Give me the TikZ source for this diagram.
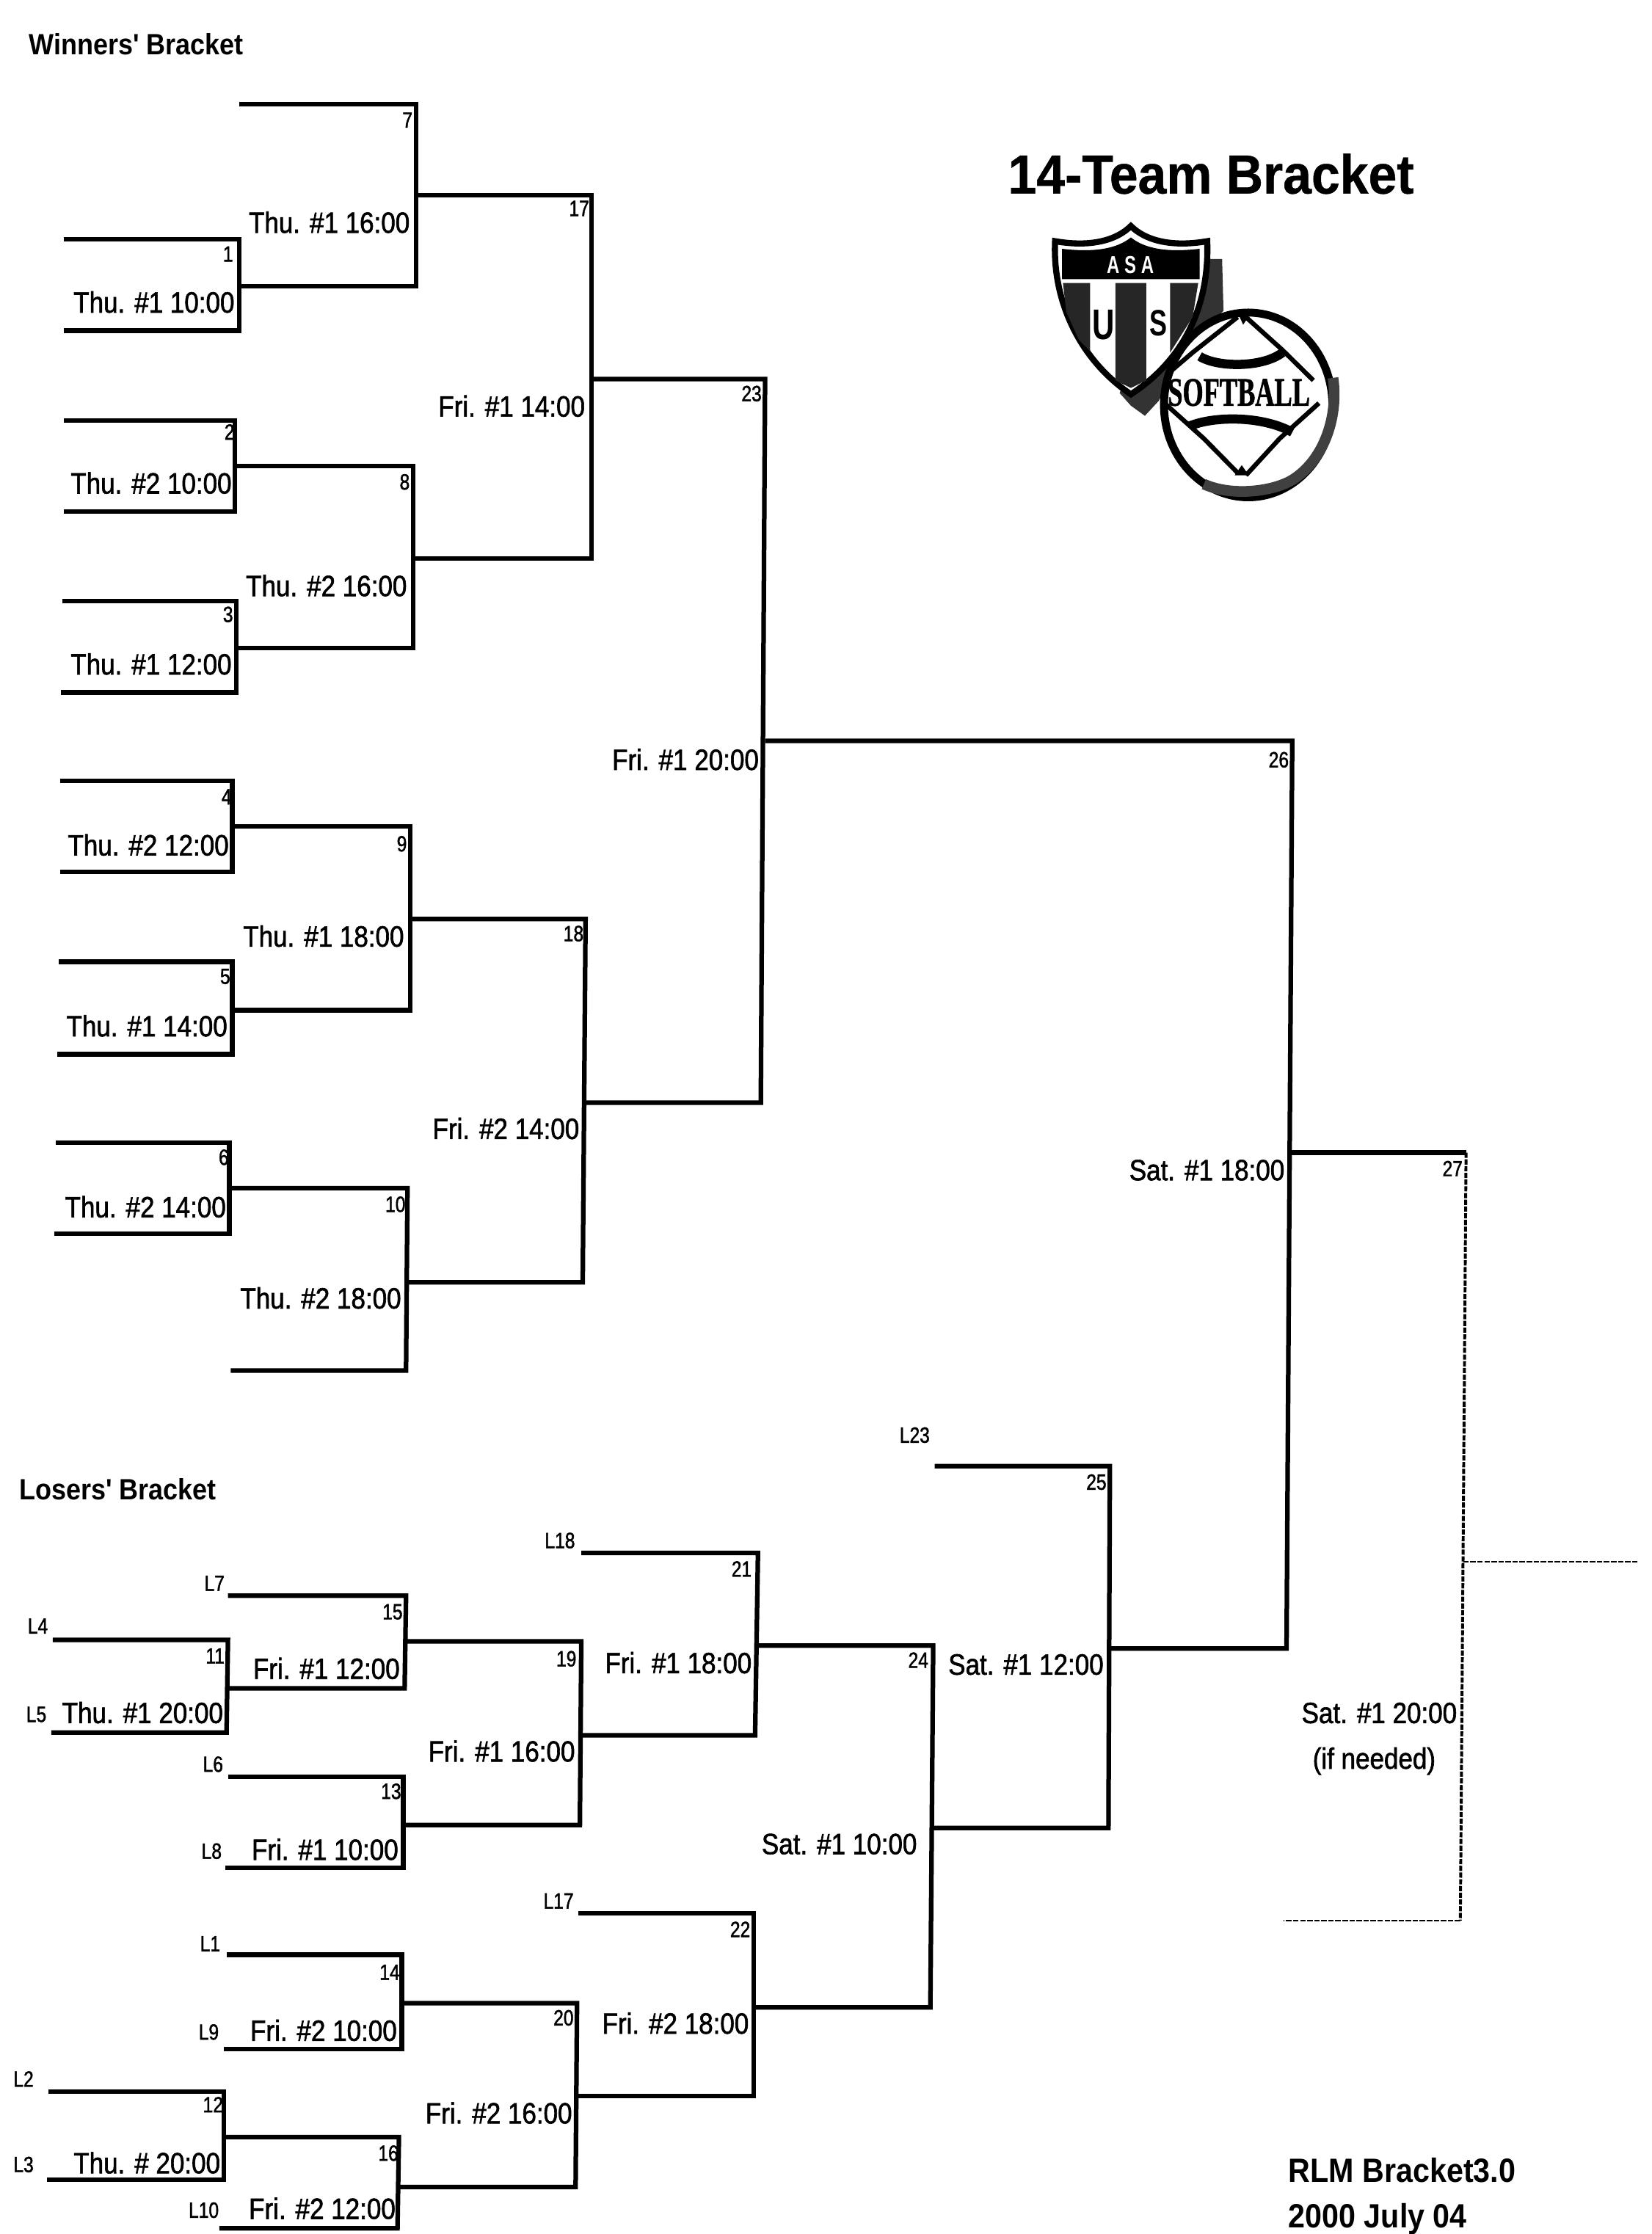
\documentclass[tikz,border=0pt]{standalone}
\usepackage{fontspec}
\setmainfont{Liberation Sans}
\newfontfamily\brfont[FakeStretch=0.875,FakeBold=1.5]{Liberation Sans}
\newfontfamily\smfont[FakeStretch=0.82,FakeBold=1.5]{Liberation Sans}
\newfontfamily\bdfont[FakeStretch=0.9]{Liberation Sans Bold}
\newfontfamily\logofont[FakeStretch=0.72]{Liberation Sans Bold}
\newfontfamily\ttlfont[FakeStretch=0.93,FakeBold=0.6]{Liberation Sans Bold}
\newfontfamily\ballfont[FakeStretch=0.66,FakeBold=1]{Liberation Serif Bold}
\tikzset{
 wire/.style={line width=1.5pt,line join=miter,line cap=butt},
 dashv/.style={line width=0.95pt,dash pattern=on 1.7pt off 0.5pt},
 dashh/.style={line width=0.55pt,dash pattern=on 1.8pt off 0.5pt},
 lbl/.style={anchor=east,inner sep=0pt,text height=6.9pt,text depth=0pt,font=\brfont\fontsize{9.6}{11}\selectfont},
 num/.style={anchor=east,inner sep=0pt,text height=5.2pt,text depth=0pt,font=\smfont\fontsize{7.2}{8}\selectfont},
 hdr/.style={anchor=west,inner sep=0pt,text height=7pt,text depth=0pt,font=\bdfont\fontsize{9.6}{11}\selectfont},
 foot/.style={anchor=west,inner sep=0pt,text height=8pt,text depth=0pt,font=\bdfont\fontsize{11}{13}\selectfont},
}
\begin{document}
\begin{tikzpicture}[x=0.4659pt,y=-0.4659pt]
\useasboundingbox (0,0) rectangle (1159,1568);
% ---- winners
\draw[wire] (168,73)--(292,73)--(292,201)--(168,201);
\draw[wire] (45,168)--(168,168)--(168,232)--(45,232);
\draw[wire] (292,137)--(415,137)--(415,392)--(289,392);
\draw[wire] (45,295)--(165,295)--(165,359)--(45,359);
\draw[wire] (165,327)--(290,327)--(290,455)--(166,455);
\draw[wire] (44,422)--(166,422)--(166,486)--(43,486);
\draw[wire] (415,266)--(537,266)--(534,774)--(411,774);
\draw[wire] (42,548)--(163,548)--(163,612)--(42,612);
\draw[wire] (41,675)--(163,675)--(163,740)--(40,740);
\draw[wire] (163,580)--(288,580)--(288,709)--(163,709);
\draw[wire] (288,645)--(411,645)--(409,900)--(285,900);
\draw[wire] (39,802)--(161,802)--(161,866)--(38,866);
\draw[wire] (161,834)--(286,834)--(285,962)--(162,962);
\draw[wire] (537,520)--(907,520)--(903,1157)--(779,1157);
\draw[wire] (905,809)--(1029,809);
% ---- final
\draw[dashv] (1029,809)--(1025,1348);
\draw[dashh] (1027,1096)--(1150,1096);
\draw[dashh] (1025,1348)--(901,1348);
% ---- losers
\draw[wire] (656,1029)--(779,1029)--(778,1283)--(653,1283);
\draw[wire] (408,1090)--(532,1090)--(530,1218)--(407,1218);
\draw[wire] (532,1155)--(655,1155)--(653,1409)--(529,1409);
\draw[wire] (285,1152)--(408,1152)--(407,1281)--(283,1281);
\draw[wire] (160,1120)--(285,1120)--(284,1185)--(160,1185);
\draw[wire] (37,1151)--(160,1151)--(159,1216)--(36,1216);
\draw[wire] (160,1247)--(283,1247)--(283,1311)--(158,1311);
\draw[wire] (159,1372)--(282,1372)--(282,1438)--(157,1438);
\draw[wire] (282,1406)--(405,1406)--(404,1535)--(279,1535);
\draw[wire] (406,1343)--(529,1343)--(529,1471)--(403,1471);
\draw[wire] (34,1468)--(157,1468)--(157,1530)--(33,1530);
\draw[wire] (157,1500)--(280,1500)--(279,1564)--(154,1564);
% ---- labels
\node[lbl] (t1) at (288,156) {Thu. \#1 16:00};
\node[lbl] (t2) at (165,212) {Thu. \#1 10:00};
\node[lbl] (t3) at (411,285) {Fri. \#1 14:00};
\node[lbl] (t4) at (163,339) {Thu. \#2 10:00};
\node[lbl] (t5) at (286,411) {Thu. \#2 16:00};
\node[lbl] (t6) at (163,466) {Thu. \#1 12:00};
\node[lbl] (t7) at (533,533) {Fri. \#1 20:00};
\node[lbl] (t8) at (161,593) {Thu. \#2 12:00};
\node[lbl] (t9) at (284,657) {Thu. \#1 18:00};
\node[lbl] (t10) at (160,720) {Thu. \#1 14:00};
\node[lbl] (t11) at (407,792) {Fri. \#2 14:00};
\node[lbl] (t12) at (159,847) {Thu. \#2 14:00};
\node[lbl] (t13) at (282,911) {Thu. \#2 18:00};
\node[lbl] (t14) at (902,821) {Sat. \#1 18:00};
\node[lbl] (t15) at (1023,1202) {Sat. \#1 20:00};
\node[lbl,anchor=center] (t16) at (964.5,1234) {(if needed)};
\node[lbl] (t17) at (775,1168) {Sat. \#1 12:00};
\node[lbl] (t18) at (528,1167) {Fri. \#1 18:00};
\node[lbl] (t19) at (281,1171) {Fri. \#1 12:00};
\node[lbl] (t20) at (157,1202) {Thu. \#1 20:00};
\node[lbl] (t21) at (404,1229) {Fri. \#1 16:00};
\node[lbl] (t22) at (280,1298) {Fri. \#1 10:00};
\node[lbl] (t23) at (644,1294) {Sat. \#1 10:00};
\node[lbl] (t24) at (526,1420) {Fri. \#2 18:00};
\node[lbl] (t25) at (279,1425) {Fri. \#2 10:00};
\node[lbl] (t26) at (402,1483) {Fri. \#2 16:00};
\node[lbl] (t27) at (155,1518) {Thu. \# 20:00};
\node[lbl] (t28) at (278,1550) {Fri. \#2 12:00};
% ---- game numbers
\node[num] (n7) at (290,84) {7};
\node[num] (n1) at (164,178) {1};
\node[num] (n17) at (414,146) {17};
\node[num] (n2) at (165,303) {2};
\node[num] (n3) at (164,431) {3};
\node[num] (n8) at (288,338) {8};
\node[num] (n23) at (535,276) {23};
\node[num] (n4) at (163,559) {4};
\node[num] (n9) at (286,592) {9};
\node[num] (n5) at (162,685) {5};
\node[num] (n18) at (410,655) {18};
\node[num] (n6) at (161,812) {6};
\node[num] (n10) at (285,845) {10};
\node[num] (n26) at (905,533) {26};
\node[num] (n27) at (1027,820) {27};
\node[num] (n25) at (777,1040) {25};
\node[num] (n21) at (528,1101) {21};
\node[num] (n24) at (652,1165) {24};
\node[num] (n19) at (405,1164) {19};
\node[num] (n15) at (283,1131) {15};
\node[num] (n11) at (158,1162) {11};
\node[num] (n13) at (282,1257) {13};
\node[num] (n22) at (527,1354) {22};
\node[num] (n14) at (281,1384) {14};
\node[num] (n20) at (403,1416) {20};
\node[num] (n12) at (157,1477) {12};
\node[num] (n16) at (280,1511) {16};
% ---- loser sources
\node[num] (l23) at (653,1007) {L23};
\node[num] (l18) at (404,1081) {L18};
\node[num] (l7) at (158,1111) {L7};
\node[num] (l4) at (34,1141) {L4};
\node[num] (l5) at (33,1203) {L5};
\node[num] (l6) at (157,1238) {L6};
\node[num] (l8) at (156,1299) {L8};
\node[num] (l17) at (403,1334) {L17};
\node[num] (l1) at (155,1364) {L1};
\node[num] (l9) at (154,1426) {L9};
\node[num] (l2) at (24,1459) {L2};
\node[num] (l3) at (24,1519) {L3};
\node[num] (l10) at (154,1551) {L10};
% ---- headings
\node[hdr] (h1) at (20,31) {Winners' Bracket};
\node[hdr] (h2) at (13,1045) {Losers' Bracket};
\node[foot] (f1) at (904,1523) {RLM Bracket3.0};
\node[foot] (f2) at (904,1555) {2000 July 04};
\node[anchor=center,inner sep=0pt,font=\ttlfont\fontsize{18}{20}\selectfont] (title) at (850,122) {14-Team Bracket};
% ---- logo
\begin{scope}[shift={(711,87.6)},xscale=0.197,yscale=0.1776]
\fill[black!80] (600,530)--(745,530)--(750,735)--(600,900)--(520,1090)--(470,1150)--(420,1110)--(380,1060)--(500,700)--cycle;
\draw[line width=2pt,fill=white] (150,460) .. controls (280,485) and (370,455) .. (420,400) .. controls (470,455) and (560,485) .. (692,460) .. controls (700,700) and (620,920) .. (420,1065) .. controls (240,930) and (140,700) .. (150,460) -- cycle;
\fill (175,490) .. controls (290,505) and (370,490) .. (420,445) .. controls (470,490) and (550,505) .. (665,490) -- (665,610) -- (175,610) -- cycle;
\fill[black!85] (178,625)--(275,625)--(275,895)--(235,850)--(190,740)--cycle;
\fill[black!85] (365,625)--(475,625)--(475,1010)--(420,1040)--(365,1010)--cycle;
\fill[black!85] (560,625)--(660,625)--(640,760)--(560,900)--cycle;
\node[white,inner sep=0pt,font=\logofont\fontsize{8}{9}\selectfont] (asa) at (418,555) {A S A};
\node[inner sep=0pt,fill=white,font=\logofont\fontsize{14}{15}\selectfont] (u) at (322,790) {U};
\node[inner sep=0pt,fill=white,font=\logofont\fontsize{12}{13}\selectfont] (s) at (517,785) {S};
% ball
\draw[line width=2.6pt,fill=white] (838,1107) ellipse [x radius=300,y radius=365];
\draw[line width=1.5pt] (800,760)--(640,900)--(545,990);
\draw[line width=1.5pt] (830,760)--(960,890)--(1070,1010);
\draw[line width=1.5pt] (540,1100)--(680,1240)--(800,1375);
\draw[line width=1.5pt] (1090,1100)--(950,1240)--(830,1385);
\draw[line width=3pt] (665,915) .. controls (730,960) and (890,960) .. (960,900);
\draw[line width=3pt] (630,1190) .. controls (720,1150) and (890,1150) .. (995,1215);
\draw[line width=3.5pt,black!75] (1140,1000) .. controls (1160,1150) and (1110,1320) .. (1000,1400) .. controls (930,1450) and (780,1470) .. (680,1420);
\fill (800,740)--(850,740)--(820,790)--cycle;
\fill (790,1385)--(840,1385)--(815,1345)--cycle;
\node[inner sep=0pt,font=\ballfont\fontsize{13.2}{14}\selectfont] (soft) at (805,1058) {SOFTBALL};
\end{scope}
\end{tikzpicture}
\end{document}
